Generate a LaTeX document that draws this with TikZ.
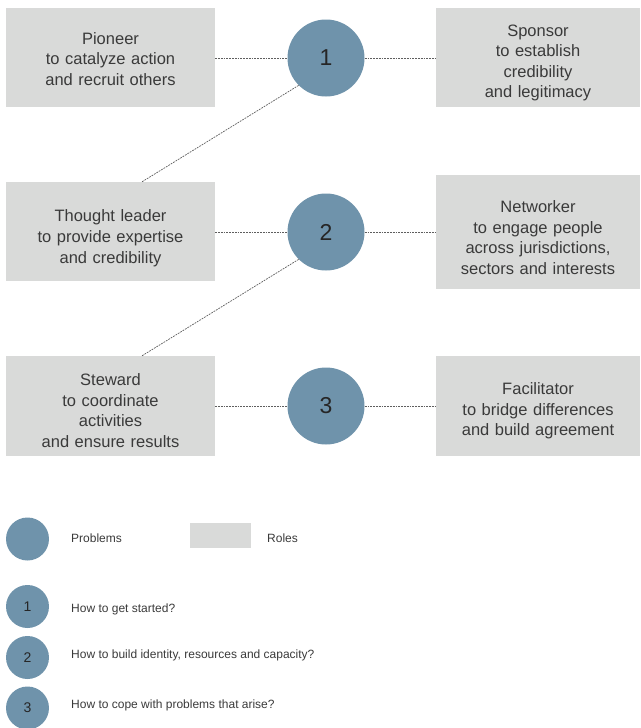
\documentclass[tikz,border=0pt]{standalone}
\usepackage{fontspec}
\setmainfont{Liberation Sans}
\usetikzlibrary{positioning}
\definecolor{probblue}{HTML}{6F93AB}
\definecolor{rolegray}{HTML}{D9DAD9}
\definecolor{txtgray}{HTML}{3A3A3A}
\definecolor{linegray}{HTML}{5E5E5E}

\begin{document}
\begin{tikzpicture}[x=1pt,y=-1pt,
  role/.style={rectangle,fill=rolegray,draw=none,inner sep=0pt,text width=200pt,align=center,text=txtgray,font=\fontsize{16.5}{20.6}\selectfont,minimum width=209pt,minimum height=99pt},
  textdrop/.style={execute at begin node={\rule{0pt}{#1}}},
  problem/.style={circle,fill=probblue,draw=none,inner sep=0pt,minimum size=77pt,text=black!85,font=\fontsize{23}{23}\selectfont},
  small/.style={problem,minimum size=43pt,font=\fontsize{14}{14}\selectfont},
  legend/.style={anchor=west,inner sep=0pt,text=txtgray,font=\fontsize{12}{14}\selectfont},
  link/.style={draw=linegray,line width=0.7pt,dash pattern=on 1.8pt off 1pt}]
  \useasboundingbox (0,0) rectangle (640,728);

  \node [role,textdrop=14.5pt] (pioneer) at (110.5,57.5) {Pioneer\\to catalyze action\\and recruit others};
  \node [role,textdrop=22.5pt,minimum width=204pt] (sponsor) at (538,57.5) {Sponsor\\to establish\\credibility\\and legitimacy};
  \node [role,textdrop=25.5pt] (thought) at (110.5,231.5) {Thought leader\\to provide expertise\\and credibility};
  \node [role,textdrop=23.5pt,minimum width=204pt,minimum height=114pt] (network) at (538,232) {Networker\\to engage people\\across jurisdictions,\\sectors and interests};
  \node [role,textdrop=21.5pt,minimum height=100pt] (steward) at (110.5,406) {Steward\\to coordinate\\activities\\and ensure results};
  \node [role,textdrop=21.5pt,minimum width=204pt,minimum height=100pt] (facil) at (538,406) {Facilitator\\to bridge differences\\and build agreement};

  \node [problem] (p1) at (326,58) {1};
  \node [problem] (p2) at (326,232) {2};
  \node [problem] (p3) at (326,406) {3};

  \draw [link] (pioneer.east |- p1) -- (p1);
  \draw [link] (p1) -- (sponsor.west |- p1);
  \draw [link] (thought.east |- p2) -- (p2);
  \draw [link] (p2) -- (network.west |- p2);
  \draw [link] (steward.east |- p3) -- (p3);
  \draw [link] (p3) -- (facil.west |- p3);
  \draw [link] (p1.south west) -- ([xshift=31.5pt]thought.north);
  \draw [link] (p2.south west) -- ([xshift=31.5pt]steward.north);

  \node [small] (lgprob) at (27.5,539) {};
  \node [legend] (lgprobtxt) at (71,538) {Problems};
  \node [rectangle,fill=rolegray,minimum width=61pt,minimum height=25pt,inner sep=0pt] (lgrole) at (220.5,535.5) {};
  \node [legend] (lgroletxt) at (267,538) {Roles};

  \node [small] (q1) at (27.5,606.5) {1};
  \node [legend] (q1txt) at (71,609) {How to get started?};
  \node [small] (q2) at (27.5,657.5) {2};
  \node [legend] (q2txt) at (71,655.5) {How to build identity, resources and capacity?};
  \node [small] (q3) at (27.5,708) {3};
  \node [legend] (q3txt) at (71,705.5) {How to cope with problems that arise?};
\end{tikzpicture}
\end{document}
